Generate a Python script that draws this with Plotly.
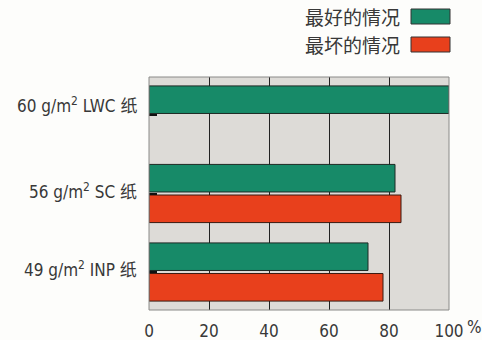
import plotly.graph_objects as go

# Data
categories = ["LWC", "SC", "INP"]
category_labels = ["60 g/m<sup>2</sup> LWC 纸", "56 g/m<sup>2</sup> SC 纸", "49 g/m<sup>2</sup> INP 纸"]
best_case = [100, 82, 73]
worst_case = [None, 84, 78]
series_names = ["最好的情况", "最坏的情况"]
x_ticks = [0, 20, 40, 60, 80, 100]
x_tick_text = ["0", "20", "40", "60", "80", "100"]

GREEN = "#178a68"
RED = "#e8401c"
TEXT = "#383838"
FONT = "DejaVu Sans Condensed, Noto Sans CJK SC, sans-serif"
CJK = "Noto Sans CJK SC, sans-serif"

W, H = 482, 340
L, R, T, B = 149, 33, 77, 30
PW, PH = W - L - R, H - T - B


def px(x):
    return (x - L) / PW


def py(y):
    return (H - B - y) / PH


fig = go.Figure()
fig.add_trace(go.Bar(y=categories, x=best_case, orientation="h", name=series_names[0],
                     marker=dict(color=GREEN, line=dict(color="#1d2a24", width=1))))
fig.add_trace(go.Bar(y=categories, x=worst_case, orientation="h", name=series_names[1],
                     marker=dict(color=RED, line=dict(color="#3a1a10", width=1))))

annotations = []
for cat, lab, w in zip(categories, category_labels, worst_case):
    annotations.append(dict(x=0, xref="paper", y=cat, yref="y", text=lab, showarrow=False,
                            xanchor="right", xshift=-10, yshift=10 if w is None else 3,
                            font=dict(family=FONT, size=17, color=TEXT)))
annotations.append(dict(x=100, xref="x", y=0, yref="paper", text="%", showarrow=False,
                        xanchor="left", yanchor="top", xshift=16, yshift=-5,
                        font=dict(family=FONT, size=17, color=TEXT)))

# Legend: text on the left, swatch on the right
shapes = []
legend_rows = [(series_names[0], GREEN, 17, 9, 24), (series_names[1], RED, 45, 37, 52)]
for name, col, ty, y0, y1 in legend_rows:
    annotations.append(dict(x=px(402), xref="paper", y=py(ty), yref="paper", text=name,
                            showarrow=False, xanchor="right", yanchor="middle",
                            font=dict(family=CJK, size=19, color=TEXT)))
    shapes.append(dict(type="rect", xref="paper", yref="paper", x0=px(411), x1=px(450),
                       y0=py(y1), y1=py(y0), fillcolor=col, line=dict(color="#333333", width=1)))

# Plot frame
shapes.append(dict(type="rect", xref="paper", yref="paper", x0=0, x1=1, y0=0, y1=1,
                   line=dict(color="#8a8a88", width=1), layer="above"))

fig.update_layout(
    width=W, height=H,
    margin=dict(l=L, r=R, t=T, b=B, autoexpand=False),
    paper_bgcolor="#fdfdfb", plot_bgcolor="#dddbd7",
    barmode="group", bargap=0.22, bargroupgap=0.1,
    showlegend=False,
    annotations=annotations, shapes=shapes,
    xaxis=dict(range=[0, 100], tickvals=x_ticks, ticktext=x_tick_text, showgrid=True,
               gridcolor="#222222", gridwidth=1, zeroline=False, showline=False,
               ticks="outside", ticklen=6, tickcolor="rgba(0,0,0,0)", automargin=False,
               tickfont=dict(family=FONT, size=17, color=TEXT), fixedrange=True),
    yaxis=dict(autorange=False, range=[2.484, -0.484], showticklabels=False, ticks="inside",
               ticklen=8, tickwidth=2, tickcolor="#111111", showgrid=False, zeroline=False,
               automargin=False, fixedrange=True),
)

fig.write_html("out.html")
